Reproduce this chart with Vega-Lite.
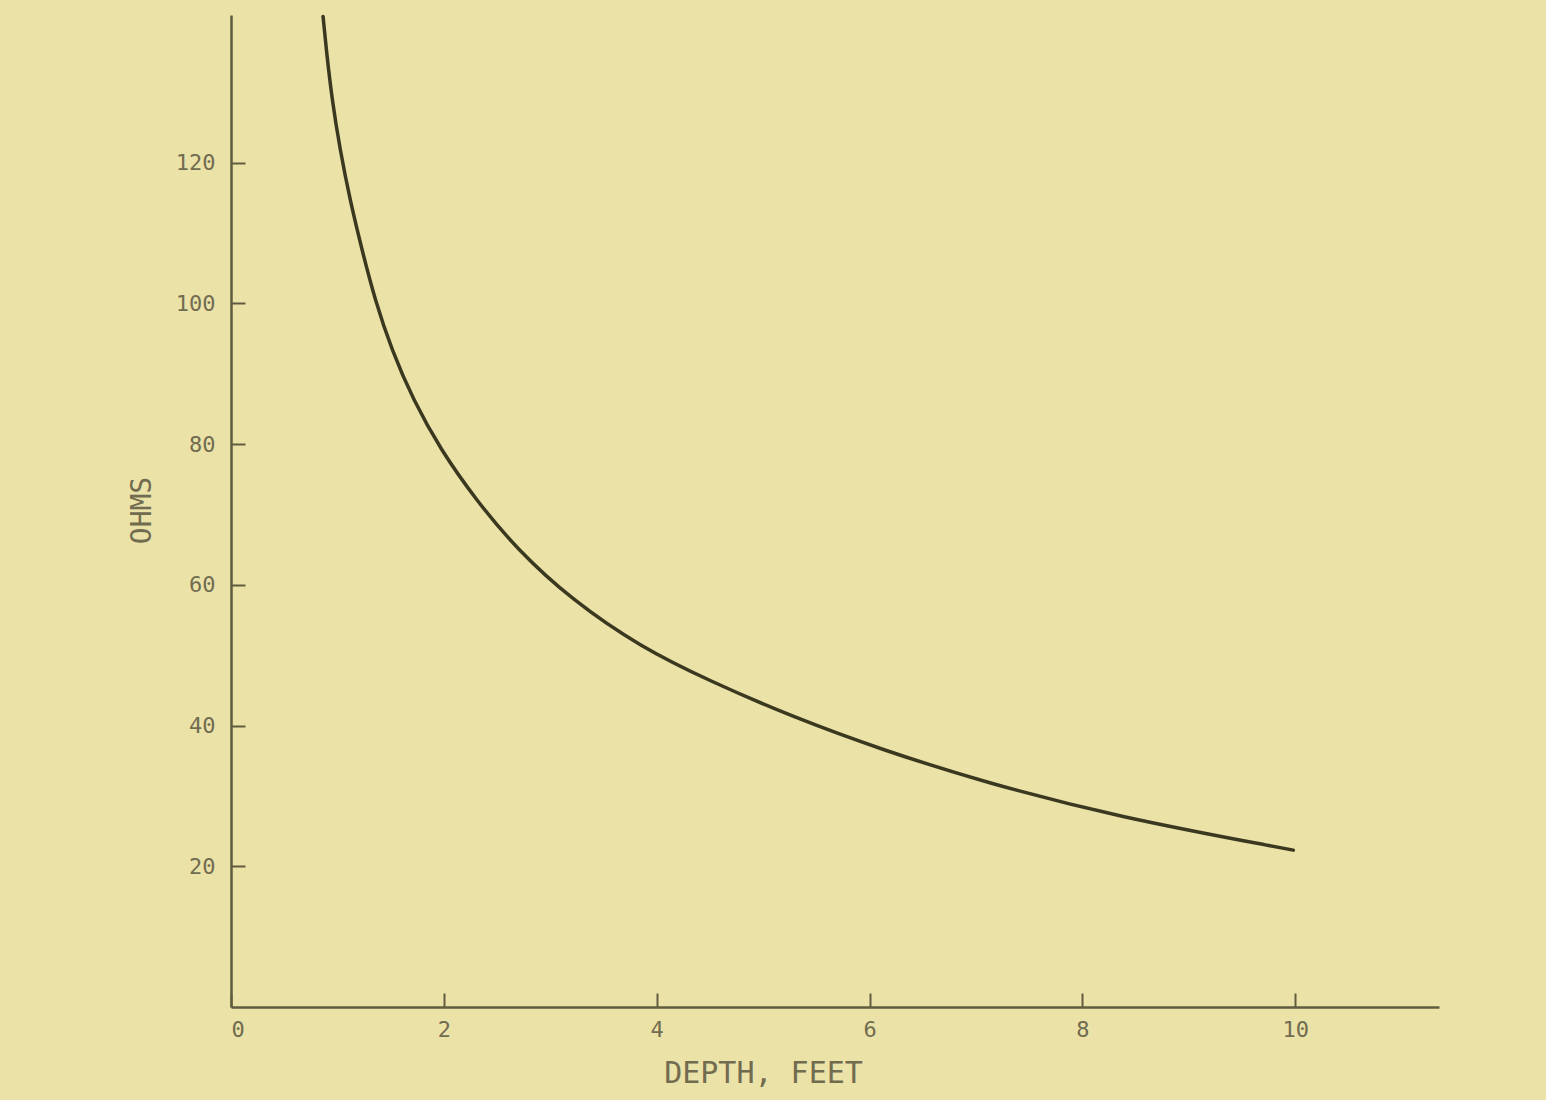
{
  "$schema": "https://vega.github.io/schema/vega-lite/v6.json",
  "autosize": {"type": "none"},
  "width": 1208,
  "height": 992,
  "padding": {"left": 231, "top": 15, "right": 107, "bottom": 93},
  "background": "#ebe2a8",
  "config": {
    "view": {"stroke": null, "fill": "#ebe2a8"},
    "axis": {
      "domainColor": "#615c40",
      "domainWidth": 2.5,
      "tickColor": "#615c40",
      "tickWidth": 2,
      "grid": false,
      "labelFont": "DejaVu Sans Mono",
      "labelFontSize": 22,
      "labelColor": "#716b50",
      "titleFont": "DejaVu Sans Mono",
      "titleFontWeight": "normal",
      "titleColor": "#716b50"
    }
  },
  "data": {
    "values": [
      {"depth": 0.865, "ohms": 140.8},
      {"depth": 0.895, "ohms": 136.1},
      {"depth": 0.949, "ohms": 129.0},
      {"depth": 1.024, "ohms": 121.9},
      {"depth": 1.118, "ohms": 114.7},
      {"depth": 1.231, "ohms": 107.6},
      {"depth": 1.353, "ohms": 100.5},
      {"depth": 1.51, "ohms": 93.4},
      {"depth": 1.711, "ohms": 86.3},
      {"depth": 1.97, "ohms": 79.2},
      {"depth": 2.3, "ohms": 72.1},
      {"depth": 2.69, "ohms": 65.0},
      {"depth": 3.2, "ohms": 57.9},
      {"depth": 3.844, "ohms": 51.2},
      {"depth": 4.502, "ohms": 46.3},
      {"depth": 5.282, "ohms": 41.2},
      {"depth": 6.128, "ohms": 36.5},
      {"depth": 7.068, "ohms": 32.0},
      {"depth": 8.327, "ohms": 27.0},
      {"depth": 9.981, "ohms": 22.3}
    ]
  },
  "mark": {
    "type": "line",
    "interpolate": "basis",
    "color": "#3b3820",
    "strokeWidth": 3.5,
    "strokeCap": "round"
  },
  "encoding": {
    "x": {
      "field": "depth",
      "type": "quantitative",
      "scale": {"domain": [0, 11.35], "nice": false, "zero": false},
      "axis": {
        "title": "DEPTH, FEET",
        "values": [0, 2, 4, 6, 8, 10],
        "tickSize": -14,
        "labelPadding": 26,
        "titleFontSize": 30,
        "titleX": 532,
        "titleY": 51,
        "titleAnchor": null,
        "titleAlign": "center",
        "titleBaseline": "top"
      }
    },
    "y": {
      "field": "ohms",
      "type": "quantitative",
      "scale": {"domain": [0, 141], "nice": false},
      "axis": {
        "title": "OHMS",
        "values": [20, 40, 60, 80, 100, 120],
        "tickSize": -14,
        "labelPadding": 30,
        "titleFontSize": 28,
        "titleAngle": -90,
        "titleX": -89,
        "titleY": 495,
        "titleAlign": "center",
        "titleBaseline": "middle"
      }
    }
  }
}
